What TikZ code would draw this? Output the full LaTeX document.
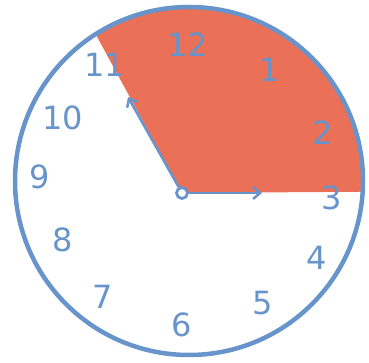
\documentclass[tikz,border=0pt]{standalone}
\usepackage{fontspec}
\usepackage{xcolor}
\usepackage{tikz}
\usetikzlibrary{arrows.meta}
\setmainfont{DejaVu Sans}

\definecolor{clockblue}{RGB}{104,148,204}
\definecolor{sectorred}{RGB}{234,112,88}

\begin{document}
\begin{tikzpicture}[x=1pt, y=1pt,
      rim/.style={draw=clockblue, line width=4.5pt},
      hand/.style={draw=clockblue, line width=2.5pt, -{Straight Barb[length=7pt, width=12pt]}},
      digit/.style={text=clockblue, font=\fontsize{32}{32}\selectfont, inner sep=0pt}
    ]
      \useasboundingbox (0,0) rectangle (369,363);
      % red part of the dial, 11 round to 3
      \coordinate (mid) at (189,182);
      \coordinate (c) at (182,170);
      \fill[sectorred] (c) -- (95,330) arc[start angle=122.4, end angle=-3.9, radius=174] -- cycle;
      \draw[rim] (mid) circle[radius=174];
      % numbers
      \foreach \n/\x/\y in {12/188/318, 1/270/293, 2/323/230, 3/332/165,
                            4/317/105, 5/263/60, 6/182/38, 7/103/66,
                            8/63/123, 9/40/186, 10/63/245, 11/105/298}
        \node[digit] (n\n) at (\x,\y) {\n};
      % hands
      \node[draw=clockblue, fill=white, line width=2.8pt, circle, minimum size=11pt, inner sep=0pt] (hub) at (c) {};
      \coordinate (h11) at (128,266);
      \coordinate (h3) at (262,170);
      \draw[hand] (hub) -- (h11);
      \draw[hand] (hub) -- (h3);
    \end{tikzpicture}
\end{document}
